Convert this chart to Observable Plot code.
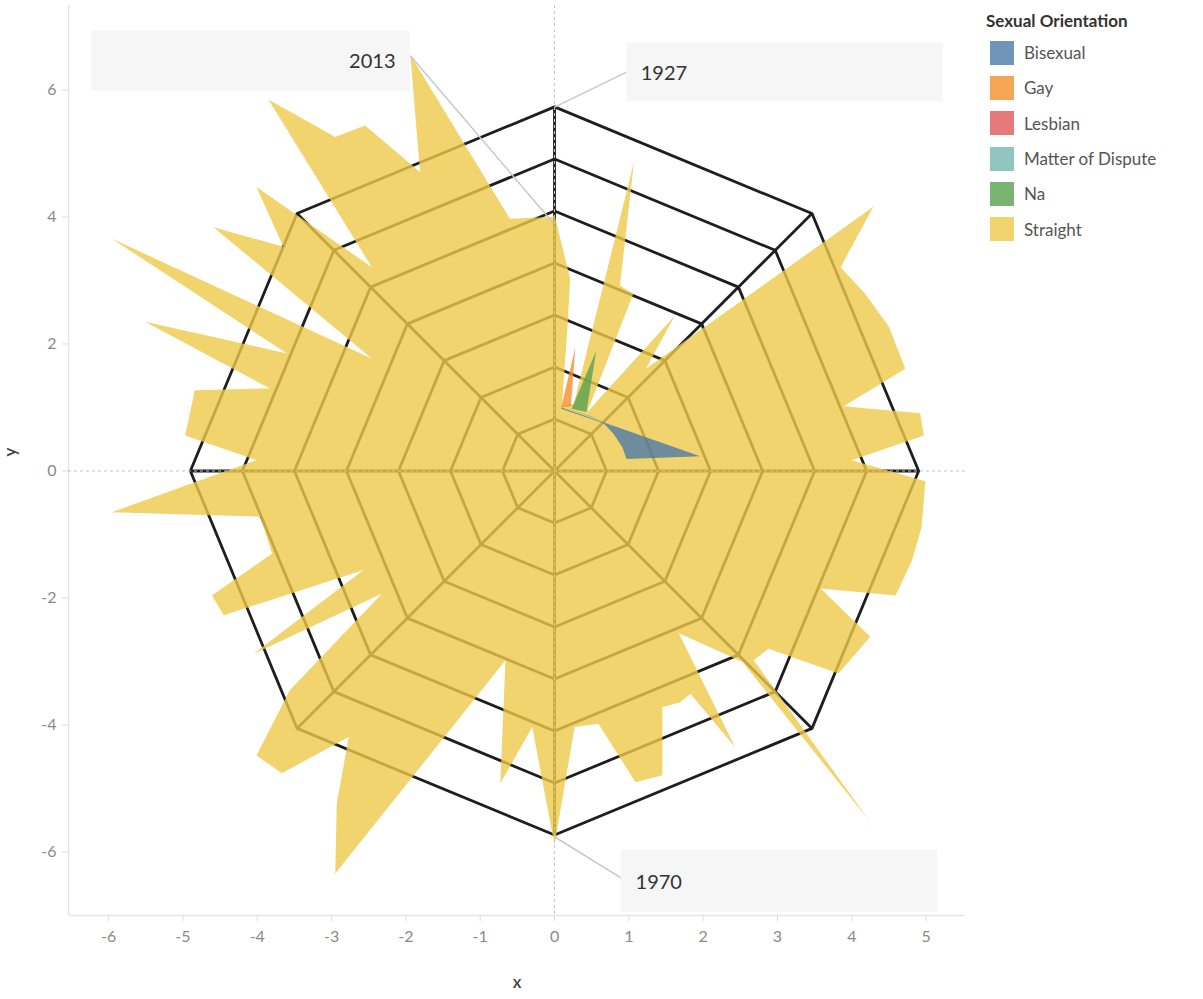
<!DOCTYPE html>
<html>
<head>
<meta charset="utf-8">
<script src="https://cdn.jsdelivr.net/npm/d3@7"></script>
<script src="https://cdn.jsdelivr.net/npm/@observablehq/plot@0.6"></script>
<style>
  body { margin: 0; background: #fff; font-family: Lato, "Open Sans", sans-serif; }
  #wrap { position: relative; width: 1203px; height: 999px; overflow: hidden; }
  #chart { position: absolute; left: 0; top: 0; }
  #legend { position: absolute; left: 986px; top: 7px; }
  #legend .title { font-size: 17px; font-weight: 700; color: #333; height: 28px; line-height: 28px; }
  #legend .row { display: flex; align-items: center; height: 35.3px; }
  #legend .sw { width: 24px; height: 24px; margin-left: 4px; margin-right: 10px; opacity: 0.8; }
  #legend .lab { font-size: 17px; color: #555; white-space: nowrap; }
</style>
</head>
<body>
<div id="wrap"><div id="chart"></div><div id="legend"></div></div>
<script>
// ---- categories & colours ----
const orientations = ["Bisexual", "Gay", "Lesbian", "Matter of Dispute", "Na", "Straight"];
const orientationColors = ["#4e79a7", "#f28e2b", "#e15759", "#76b7b2", "#59a14f", "#edc948"];

// ---- Straight: outline of the radial area (x, y in chart units, clockwise from 1927 at top) ----
const straightX = [0, 0.21, 0.18, 0.10, 0.26, 1.07, 0.88, 1.06, 0.44, 1.62, 1.23, 4.29, 3.85, 4.18, 4.50, 4.72,
  3.89, 4.92, 4.97, 4.00, 4.99, 4.94, 4.81, 4.59, 3.58, 4.25, 3.82, 2.88, 2.68, 4.25, 2.53, 1.67, 2.43, 1.83,
  1.69, 1.45, 1.45, 1.09, 0.59, 0.27, 0, -0.30, -0.73, -0.66, -2.95, -2.93, -2.77, -3.67, -4.01, -3.56, -2.32,
  -4.05, -2.57, -4.45, -4.61, -3.80, -3.96, -5.96, -4.01, -4.97, -4.84, -3.83, -5.51, -3.60, -5.96, -2.46,
  -4.59, -3.65, -4.01, -2.46, -3.85, -2.95, -2.55, -1.81, -1.94, -0.60, -0.03];
const straightY = [4.03, 3.03, 2.37, 1.03, 1.06, 4.87, 2.92, 2.79, 0.93, 2.45, 1.61, 4.16, 3.21, 2.79, 2.27, 1.61,
  1.02, 0.91, 0.56, 0.17, -0.16, -0.88, -1.41, -1.96, -1.85, -2.61, -3.19, -2.80, -2.98, -5.53, -3.01, -2.55,
  -4.35, -3.51, -3.64, -3.72, -4.79, -4.90, -3.98, -4.03, -5.89, -4.03, -4.92, -2.98, -6.34, -5.24, -4.19,
  -4.76, -4.48, -3.45, -1.93, -2.88, -1.56, -2.27, -1.96, -1.30, -0.72, -0.65, 0.17, 0.56, 1.27, 1.30, 2.35,
  1.85, 3.66, 1.77, 3.84, 3.53, 4.47, 3.21, 5.85, 5.26, 5.44, 4.71, 6.55, 3.97, 4.00];

// ---- small series ----
const bisexualX = [0.09, 1.96, 0.97, 0.91, 0.79, 0.66, 0.09];
const bisexualY = [1.00, 0.23, 0.19, 0.38, 0.59, 0.75, 0.98];
const gayX = [0.09, 0.28, 0.22];
const gayY = [1.00, 1.95, 1.02];
const disputeX = [0.09, 0.64, 0.48];
const disputeY = [1.01, 0.79, 0.87];
const naX = [0.23, 0.56, 0.43];
const naY = [0.98, 1.89, 0.93];

// ---- grid ----
const ringLevels = [1, 2, 3, 4, 5, 6, 7];
const spokeAngles = [0, 45, 90, 135, 180, 225, 270, 315];
const ringStepX = 0.70, ringStepY = 0.819;

// ---- axes ----
const xTicks = [-6, -5, -4, -3, -2, -1, 0, 1, 2, 3, 4, 5];
const yTicks = [-6, -4, -2, 0, 2, 4, 6];
const xDomain = [-6.54, 5.53];
const yDomain = [-7.0, 7.33];

// ---- annotations ----
const annotationYears = ["1927", "1970", "2013"];
const annotationX = [0, 0, -0.03];
const annotationY = [5.73, -5.76, 3.92];

// ---------------------------------------------------------------
const pts = (xs, ys) => xs.map((x, i) => ({x, y: ys[i]}));
const colorOf = name => orientationColors[orientations.indexOf(name)];
const rad = a => a * Math.PI / 180;

const ringRows = ringLevels.flatMap(k => [...spokeAngles, 360].map(a => ({
  ring: k, x: k * ringStepX * Math.sin(rad(a)), y: k * ringStepY * Math.cos(rad(a))
})));
const outer = ringLevels[ringLevels.length - 1];
const spokeRows = spokeAngles.map(a => ({
  x2: outer * ringStepX * Math.sin(rad(a)), y2: outer * ringStepY * Math.cos(rad(a))
}));

// annotation box placement (chart units)
const annLayout = {
  "1927": {x1: 0.97, x2: 5.23, y1: 5.82, y2: 6.74, tx: 1.16, ty: 6.25, anchor: "start", lx: 0.97, ly: 6.28},
  "1970": {x1: 0.90, x2: 5.16, y1: -6.95, y2: -5.97, tx: 1.09, ty: -6.48, anchor: "start", lx: 0.90, ly: -6.41},
  "2013": {x1: -6.23, x2: -1.94, y1: 5.98, y2: 6.93, tx: -2.14, ty: 6.44, anchor: "end", lx: -1.94, ly: 6.54}
};
const ann = annotationYears.map((yr, i) => ({year: yr, ax: annotationX[i], ay: annotationY[i], ...annLayout[yr]}));

const fontFam = "Lato, 'Open Sans', sans-serif";
const fillOp = 0.8;

const chart = Plot.plot({
  width: 975,
  height: 999,
  marginLeft: 68,
  marginRight: 10,
  marginTop: 5,
  marginBottom: 84,
  x: {domain: xDomain, label: null},
  y: {domain: yDomain, label: null},
  style: {fontFamily: fontFam, background: "transparent", overflow: "visible"},
  marks: [
    Plot.ruleX([xDomain[0]], {stroke: "#e6e6e6", strokeWidth: 1.5}),
    Plot.ruleY([yDomain[0]], {stroke: "#e6e6e6", strokeWidth: 1.5}),
    Plot.axisX({ticks: xTicks, tickSize: 6, tickPadding: 9, stroke: "#dcdcdc", fill: "#8a8a8a",
      fontSize: 16, tickFormat: d => String(d), label: null}),
    Plot.axisY({ticks: yTicks, tickSize: 6, tickPadding: 6, stroke: "#dcdcdc", fill: "#8a8a8a",
      fontSize: 16, tickFormat: d => String(d), label: null}),
    // grid
    Plot.line(ringRows, {x: "x", y: "y", z: "ring", stroke: "#1e1e1e", strokeWidth: 2.8, strokeLinejoin: "miter"}),
    Plot.link(spokeRows, {x1: () => 0, y1: () => 0, x2: "x2", y2: "y2", stroke: "#1e1e1e", strokeWidth: 2.8}),
    Plot.ruleX([0], {stroke: "#c4c4c4", strokeWidth: 1, strokeDasharray: "3,3"}),
    Plot.ruleY([0], {stroke: "#c4c4c4", strokeWidth: 1, strokeDasharray: "3,3"}),
    // series
    Plot.line(pts(straightX, straightY), {x: "x", y: "y", fill: colorOf("Straight"), fillOpacity: fillOp, stroke: "none"}),
    Plot.line(pts(bisexualX, bisexualY), {x: "x", y: "y", fill: colorOf("Bisexual"), fillOpacity: fillOp, stroke: "none"}),
    Plot.line(pts(disputeX, disputeY), {x: "x", y: "y", fill: colorOf("Matter of Dispute"), fillOpacity: fillOp, stroke: "none"}),
    Plot.line(pts(gayX, gayY), {x: "x", y: "y", fill: colorOf("Gay"), fillOpacity: fillOp, stroke: "none"}),
    Plot.line(pts(naX, naY), {x: "x", y: "y", fill: colorOf("Na"), fillOpacity: fillOp, stroke: "none"}),
    // annotations
    Plot.link(ann, {x1: "lx", y1: "ly", x2: "ax", y2: "ay", stroke: "#c8c8c8", strokeWidth: 1.5}),
    Plot.rect(ann, {x1: "x1", x2: "x2", y1: "y1", y2: "y2", fill: "#f6f6f6", fillOpacity: 0.95}),
    Plot.text(ann.filter(d => d.anchor === "start"), {x: "tx", y: "ty", text: "year", textAnchor: "start", fill: "#333", fontSize: 20}),
    Plot.text(ann.filter(d => d.anchor === "end"), {x: "tx", y: "ty", text: "year", textAnchor: "end", fill: "#333", fontSize: 20}),
    // axis titles
    Plot.text(["y"], {frameAnchor: "left", dx: -58, dy: -4, rotate: -90, text: d => d, fill: "#444", fontSize: 17, fontWeight: 600}),
    Plot.text(["x"], {frameAnchor: "bottom", dy: 72, text: d => d, fill: "#444", fontSize: 17, fontWeight: 600})
  ]
});
document.getElementById("chart").appendChild(chart);

// legend
const legend = document.getElementById("legend");
legend.innerHTML = `<div class="title">Sexual Orientation</div>` +
  orientations.map((o, i) => `<div class="row"><div class="sw" style="background:${orientationColors[i]}"></div><div class="lab">${o}</div></div>`).join("");
</script>
</body>
</html>
